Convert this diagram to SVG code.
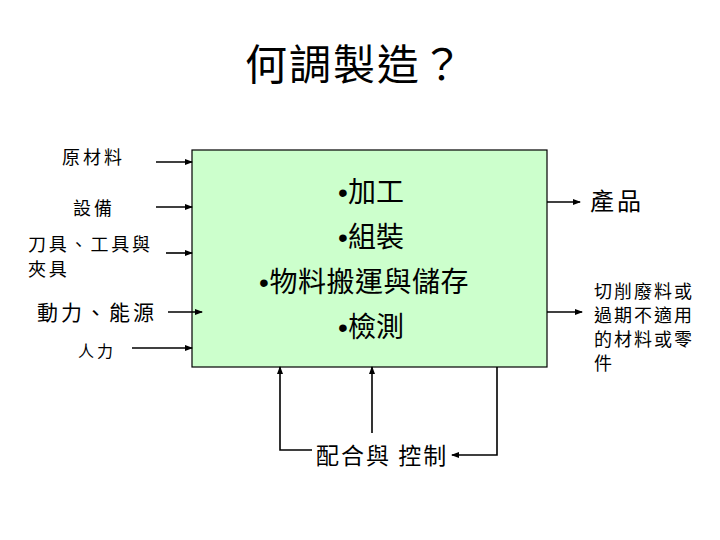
<svg xmlns="http://www.w3.org/2000/svg" width="720" height="540" viewBox="0 0 720 540">
<style>
text{font-family:"Noto Sans CJK TC","Noto Sans CJK SC",sans-serif;fill:#000}
.b{font-family:"Liberation Sans",sans-serif}
.ln{stroke:#000;stroke-width:1.6;fill:none}
</style>
<defs>
<marker id="ah" markerWidth="8" markerHeight="6" refX="7" refY="3" orient="auto" markerUnits="userSpaceOnUse">
<path d="M0,0 L8,3 L0,6 Z" fill="#000"/>
</marker>
</defs>
<rect width="720" height="540" fill="#fff"/>
<text x="355" y="80" font-size="42" text-anchor="middle" letter-spacing="2">何調製造？</text>
<g id="process">
<rect x="192" y="150" width="355" height="217" fill="#ccffcc" stroke="#000" stroke-width="1.2"/>
<text x="371" y="202" font-size="28" text-anchor="middle"><tspan class="b">•</tspan>加工</text>
<text x="371" y="247" font-size="28" text-anchor="middle"><tspan class="b">•</tspan>組裝</text>
<text x="364" y="292" font-size="28" text-anchor="middle" letter-spacing="0.5"><tspan class="b">•</tspan>物料搬運與儲存</text>
<text x="371" y="337" font-size="28" text-anchor="middle"><tspan class="b">•</tspan>檢測</text>
</g>
<g id="in-material"><text x="62" y="164" font-size="18" letter-spacing="3">原材料</text></g>
<g id="in-equipment"><text x="73" y="215" font-size="18" letter-spacing="3">設備</text></g>
<g id="in-tools"><text x="28" y="251" font-size="18" letter-spacing="2.8">刀具、工具與</text><text x="28" y="276" font-size="18" letter-spacing="2.8">夾具</text></g>
<g id="in-power"><text x="37" y="320" font-size="21" letter-spacing="3">動力、能源</text></g>
<g id="in-labor"><text x="78" y="357" font-size="16" letter-spacing="3">人力</text></g>
<g id="out-product"><text x="590" y="210" font-size="24" letter-spacing="3">產品</text></g>
<g id="out-scrap">
<text x="594" y="298" font-size="18" letter-spacing="2">切削廢料或</text>
<text x="594" y="322" font-size="18" letter-spacing="2">過期不適用</text>
<text x="594" y="346" font-size="18" letter-spacing="2">的材料或零</text>
<text x="594" y="370" font-size="18" letter-spacing="2">件</text>
</g>
<g id="control"><text x="316" y="464" font-size="23" letter-spacing="2">配合與 控制</text></g>
<g id="connectors">
<line class="ln" x1="156" y1="162" x2="192" y2="162" marker-end="url(#ah)"/>
<line class="ln" x1="156" y1="207" x2="192" y2="207" marker-end="url(#ah)"/>
<line class="ln" x1="166" y1="253" x2="192" y2="253" marker-end="url(#ah)"/>
<line class="ln" x1="168" y1="312" x2="202" y2="312" marker-end="url(#ah)"/>
<line class="ln" x1="132" y1="348" x2="192" y2="348" marker-end="url(#ah)"/>
<line class="ln" x1="547" y1="202" x2="580" y2="202" marker-end="url(#ah)"/>
<line class="ln" x1="547" y1="312" x2="582" y2="312" marker-end="url(#ah)"/>
<polyline class="ln" points="312,450 280,450 280,367" marker-end="url(#ah)"/>
<line class="ln" x1="372" y1="433" x2="372" y2="367" marker-end="url(#ah)"/>
<polyline class="ln" points="497,367 497,455 452,455" marker-end="url(#ah)"/>
</g>
</svg>
